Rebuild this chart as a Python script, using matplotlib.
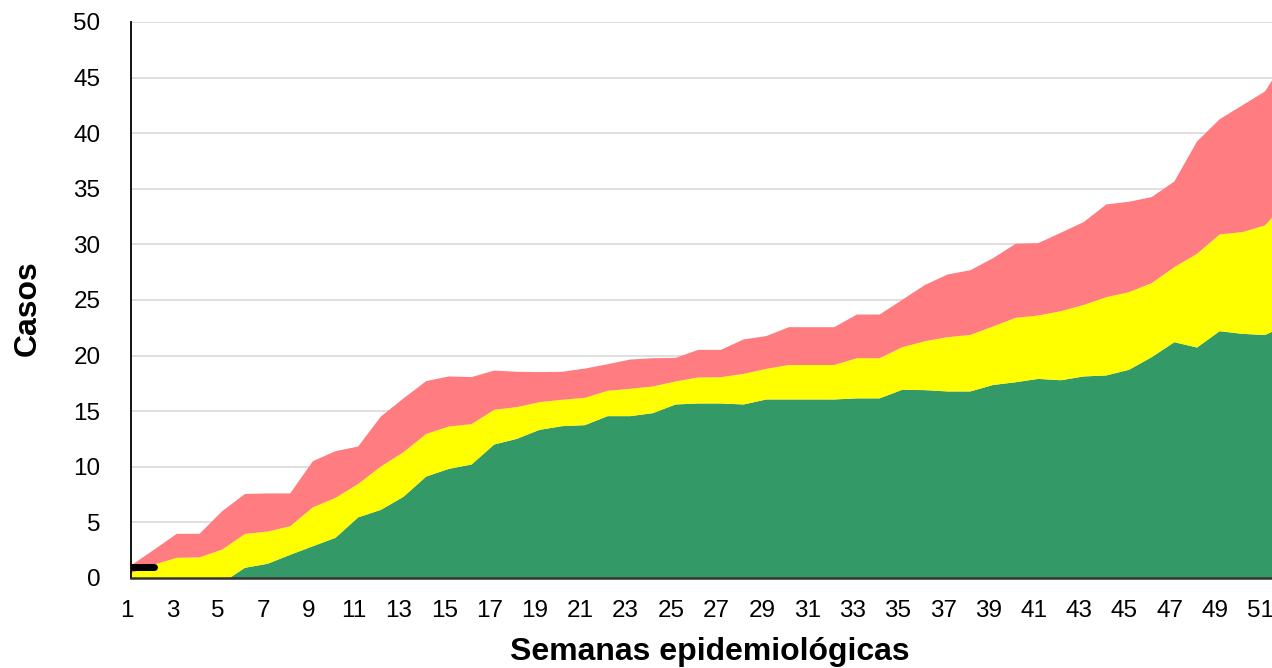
import matplotlib.pyplot as plt
from matplotlib.transforms import ScaledTranslation

plt.rcParams['font.family'] = ['Liberation Sans', 'DejaVu Sans']

# epidemic channel per epidemiological week
weeks = list(range(1, 53))
# upper limit of the green (success) zone
green = [-0.2, 0, 0, 0, -0.4, 0.96, 1.32, 2.13, 2.9, 3.66,
         5.5, 6.17, 7.35, 9.17, 9.86, 10.25, 12.05, 12.56, 13.37, 13.7,
         13.79, 14.6, 14.6, 14.87, 15.65, 15.74, 15.74, 15.65, 16.1, 16.1,
         16.1, 16.1, 16.2, 16.2, 16.97, 16.94, 16.82, 16.82, 17.4, 17.65,
         17.95, 17.83, 18.17, 18.26, 18.77, 19.9, 21.25, 20.77, 22.24, 22.0,
         21.9, 22.8]
# upper limit of the yellow (security) zone
yellow = [0.5, 1.26, 1.86, 1.9, 2.6, 4.0, 4.22, 4.7, 6.4, 7.25,
          8.5, 10.07, 11.36, 13.0, 13.67, 13.88, 15.17, 15.41, 15.86, 16.07,
          16.25, 16.88, 17.06, 17.27, 17.72, 18.08, 18.1, 18.4, 18.85, 19.2,
          19.2, 19.2, 19.81, 19.81, 20.8, 21.34, 21.7, 21.9, 22.66, 23.44,
          23.65, 24.04, 24.6, 25.3, 25.75, 26.56, 28.0, 29.2, 30.94, 31.15,
          31.75, 34.0]
# upper limit of the red (alert) zone
red = [1.2, 2.6, 4.02, 4.02, 6.05, 7.6, 7.65, 7.65, 10.55, 11.45,
       11.87, 14.57, 16.2, 17.75, 18.17, 18.11, 18.7, 18.59, 18.56, 18.59,
       18.88, 19.27, 19.69, 19.81, 19.84, 20.56, 20.56, 21.5, 21.8, 22.6,
       22.6, 22.6, 23.74, 23.74, 25.06, 26.4, 27.34, 27.72, 28.8, 30.1,
       30.16, 31.1, 32.05, 33.64, 33.88, 34.3, 35.7, 39.3, 41.3, 42.55,
       43.8, 47.0]
# observed cases
case_weeks = [1, 2]
cases = [1, 1]

fig = plt.figure(figsize=(12.72, 6.68), dpi=100)
ax = fig.add_axes([131 / 1272, 1 - 578 / 668, 1 - 131 / 1272, 556 / 668])

ax.fill_between(weeks, 0, green, color='#339966', lw=0, zorder=2)
ax.fill_between(weeks, green, yellow, color='#FFFF00', lw=0, zorder=2)
ax.fill_between(weeks, yellow, red, color='#FF7C80', lw=0, zorder=2)
ax.plot(case_weeks, cases, color='black', lw=5, solid_capstyle='round', zorder=3)

ax.set_xlim(1, 51.33)
ax.set_ylim(0, 50)
ax.set_xticks(range(1, 52, 2))
ax.set_yticks(range(0, 51, 5))
ax.tick_params(axis='both', length=0, labelsize=17.5)
ax.tick_params(axis='y', pad=22)
ax.tick_params(axis='x', pad=16)
# labels sit a few pixels left of the category position
shift = ScaledTranslation(-4 / 100, 0, fig.dpi_scale_trans)
for lab in ax.get_xticklabels():
    lab.set_transform(lab.get_transform() + shift)

ax.grid(axis='y', color='#d9d9d9', lw=1.2, zorder=0)
ax.set_axisbelow(True)
for s in ['top', 'right']:
    ax.spines[s].set_visible(False)
ax.spines['left'].set_color('black')
ax.spines['bottom'].set_color('#333333')
ax.spines['left'].set_linewidth(1.3)
ax.spines['bottom'].set_linewidth(1.8)
ax.spines['bottom'].set_zorder(4)

fig.text(710 / 1272, 1 - 652 / 668, 'Semanas epidemiológicas', ha='center', va='center',
         fontsize=23, fontweight='bold')
fig.text(28 / 1272, 1 - 308 / 668, 'Casos', ha='center', va='center', rotation=90,
         fontsize=23, fontweight='bold')

fig.savefig('out.png', dpi=100)
